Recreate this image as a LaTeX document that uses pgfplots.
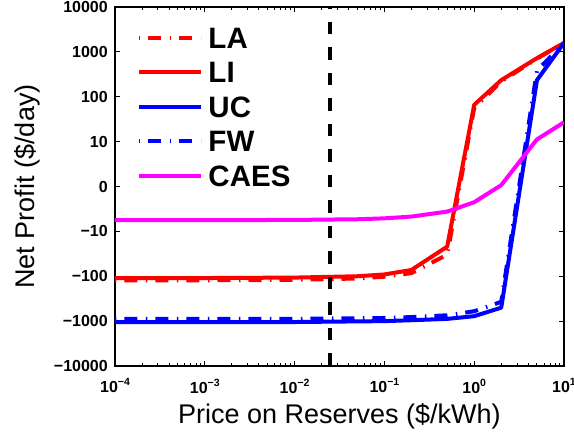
\documentclass[border=0pt]{standalone}
\usepackage{fontspec}
\setmainfont{Liberation Sans}
\usepackage{pgfplots}
\pgfplotsset{compat=1.18}
\definecolor{mred}{RGB}{255,0,0}
\definecolor{mblue}{RGB}{0,0,255}
\definecolor{mmag}{RGB}{255,0,255}
\newcommand{\xtl}[1]{\textbf{10\raisebox{7pt}{\fontsize{10.5}{10.5}\selectfont\bfseries #1}}}
\begin{document}
\begin{tikzpicture}
\begin{axis}[
  at={(115pt,73pt)}, anchor=south west,
  scale only axis, width=449pt, height=359pt,
  xmode=log, xmin=1e-4, xmax=10,
  ymin=-4, ymax=4,
  xtick={1e-4,1e-3,1e-2,1e-1,1,10},
  xticklabels={\xtl{−4},\xtl{−3},\xtl{−2},\xtl{−1},\xtl{0},\xtl{1}},
  minor xtick={2e-4,3e-4,4e-4,5e-4,6e-4,7e-4,8e-4,9e-4,2e-3,3e-3,4e-3,5e-3,6e-3,7e-3,8e-3,9e-3,2e-2,3e-2,4e-2,5e-2,6e-2,7e-2,8e-2,9e-2,0.2,0.3,0.4,0.5,0.6,0.7,0.8,0.9,2,3,4,5,6,7,8,9},
  ytick={-4,-3,-2,-1,0,1,2,3,4},
  yticklabels={−10000,−1000,−100,−10,0,10,100,1000,10000},
  ticklabel style={font=\fontsize{16}{16}\selectfont\bfseries},
  yticklabel style={inner sep=0pt, anchor=east, xshift=-7pt},
  xticklabel style={inner sep=0pt, anchor=north, yshift=-12.5pt},
  major tick length=5pt, minor tick length=3pt,
  tick style={black, line width=1pt},
  axis line style={line width=1.2pt},
  xlabel={Price on Reserves (\$/kWh)},
  ylabel={Net Profit (\$/day)},
  xlabel style={font=\fontsize{27}{27}\selectfont, at={(axis description cs:0.5,-0.1588)}, anchor=base},
  ylabel style={font=\fontsize{27}{27}\selectfont, at={(axis description cs:-0.1793,0.5)}, anchor=base},
  legend cell align=left,
  legend style={draw=none, fill=none, at={(axis description cs:0.049,0.943)}, anchor=north west,
    inner sep=0pt, outer sep=0pt, row sep=13.5pt, column sep=5.5pt,
    nodes={inner sep=0pt, text height=21pt, text depth=0pt, font=\fontsize{29.5}{29.5}\selectfont\bfseries}},
  legend image code/.code={\draw[#1] (0pt,0pt) -- (62pt,0pt);},
  every axis plot/.append style={line width=4pt, line join=round},
]
\addplot[mred, dash pattern=on 1.5pt off 8pt on 13pt off 8.5pt] coordinates {
 (1e-4,-2.09) (1e-3,-2.09) (1e-2,-2.08) (0.05,-2.05) (0.1,-2.01) (0.2,-1.93) (0.5,-1.52) (1,1.75) (2,2.34) (5,2.85) (10,3.2)};
\addlegendentry{LA}
\addplot[mred] coordinates {
 (1e-4,-2.04) (1e-3,-2.04) (1e-2,-2.03) (0.05,-2.0) (0.1,-1.96) (0.2,-1.86) (0.5,-1.34) (1,1.82) (2,2.37) (5,2.86) (10,3.2)};
\addlegendentry{LI}
\addplot[mblue] coordinates {
 (1e-4,-3.02) (1e-3,-3.02) (1e-2,-3.02) (0.1,-3.0) (0.2,-2.98) (0.5,-2.95) (1,-2.89) (2,-2.70) (5,2.37) (10,3.2)};
\addlegendentry{UC}
\addplot[mblue, dash pattern=on 1.5pt off 8pt on 13pt off 8.5pt] coordinates {
 (1e-4,-2.95) (1e-3,-2.95) (1e-2,-2.95) (0.1,-2.93) (0.2,-2.91) (0.5,-2.87) (1,-2.78) (2,-2.57) (5,2.58) (10,3.2)};
\addlegendentry{FW}
\addplot[mmag] coordinates {
 (1e-4,-0.75) (1e-3,-0.75) (1e-2,-0.745) (0.05,-0.73) (0.1,-0.71) (0.2,-0.67) (0.5,-0.56) (1,-0.35) (2,0.03) (5,1.05) (10,1.43)};
\addlegendentry{CAES}
\addplot[black, forget plot, dash pattern=on 12.5pt off 13pt] coordinates {(0.025,-4) (0.025,4)};
\end{axis}
\pgfresetboundingbox
\path (0,0) rectangle (574pt,439pt);
\end{tikzpicture}
\end{document}
